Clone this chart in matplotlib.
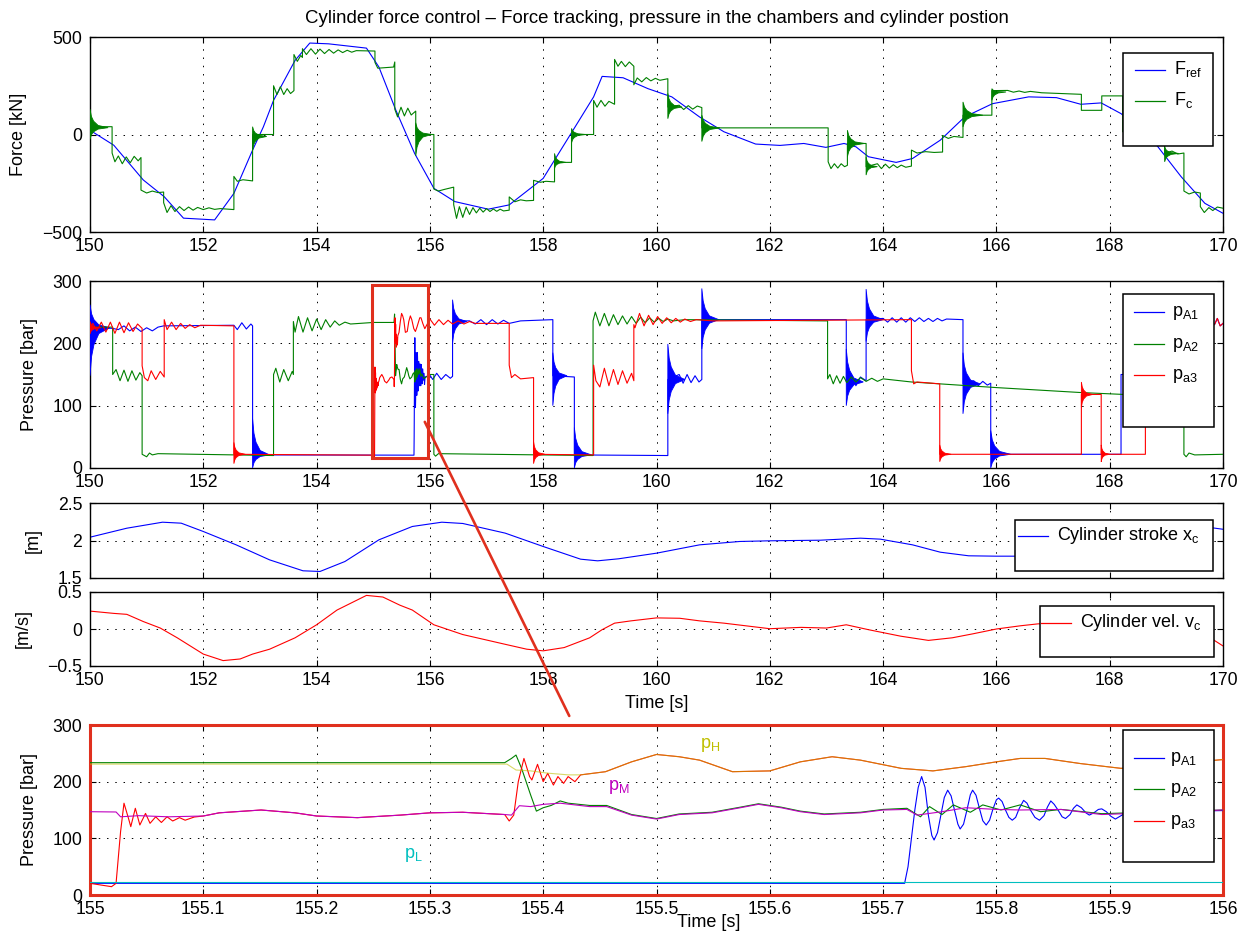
import matplotlib
matplotlib.use("Agg")
import matplotlib.pyplot as plt
from matplotlib.lines import Line2D
from matplotlib.patches import Rectangle, Polygon, ConnectionPatch
from matplotlib.ticker import FuncFormatter

plt.rcParams["font.family"] = ["Liberation Sans", "DejaVu Sans"]
plt.rcParams["mathtext.default"] = "regular"

W, H = 1249, 941
AX_LEFT, AX_RIGHT = 90, 1223

BLUE = "#0000ff"
GREEN = "#008000"
RED = "#ff0000"
CYAN = "#00bfbf"
MAGENTA = "#bf00bf"
YELLOW = "#bfbf00"
FRAME_RED = "#e0301e"

TITLE = ("Cylinder force control \u2013 Force tracking, pressure in the "
         "chambers and cylinder postion")

# ---- force [kN] ----
F_REF_T = [150.0, 150.42, 150.94, 151.31, 151.65, 152.2, 152.54, 152.87, 153.06,
           153.24, 153.62, 153.88, 154.21, 154.88, 155.1, 155.4, 155.73, 156.07,
           156.44, 157.03, 157.4, 158.0, 158.51, 158.89, 159.04, 159.41, 159.85,
           160.27, 160.76, 161.19, 161.75, 162.18, 162.6, 162.99, 163.31, 163.52,
           163.74, 164.23, 164.52, 165.01, 165.44, 165.93, 166.57, 167.06, 167.49,
           167.85, 168.2, 168.76, 169.26, 169.68, 170.0]
F_REF = [22, -55, -233, -319, -429, -438, -302, -80, 39, 175, 380, 469, 465, 443,
         346, 124, -97, -276, -344, -383, -361, -225, 14, 193, 298, 291, 235, 193,
         90, 14, -49, -56, -46, -66, -46, -63, -114, -143, -123, -29, 90, 158, 193,
         189, 155, 162, 107, -29, -216, -353, -404]

# measured force F_c, (time, value) samples
F_C = [
    (150.0, 40), (150.39, 40),
    (150.39, -95), (150.44, -140), (150.5, -110), (150.57, -150), (150.64, -115),
    (150.71, -145), (150.78, -112), (150.85, -135), (150.9, -118),
    (150.9, -285), (151.0, -300), (151.1, -290), (151.2, -298), (151.3, -295),
    (151.3, -350), (151.36, -400), (151.43, -365), (151.5, -395), (151.58, -370),
    (151.66, -390), (151.74, -372), (151.82, -388), (151.9, -374), (152.0, -385),
    (152.1, -376), (152.2, -384), (152.3, -380), (152.54, -385),
    (152.54, -215), (152.6, -240), (152.7, -232), (152.87, -238),
    (152.87, 0), (153.24, 0),
    (153.24, 250), (153.3, 205), (153.36, 245), (153.42, 205), (153.48, 235),
    (153.54, 210), (153.6, 225),
    (153.6, 410), (153.66, 375), (153.72, 405), (153.75, 395),
    (153.75, 440), (153.82, 410), (153.9, 440), (153.98, 412), (154.06, 438),
    (154.14, 415), (154.22, 436), (154.3, 417), (154.38, 434), (154.46, 420),
    (154.54, 432), (154.62, 422), (154.7, 430), (155.03, 428),
    (155.03, 370), (155.08, 340), (155.36, 346), (155.38, 372),
    (155.38, 130), (155.43, 90), (155.49, 140), (155.55, 95), (155.61, 135),
    (155.67, 100), (155.75, 120),
    (155.75, 0), (156.07, 0),
    (156.07, -280), (156.15, -290), (156.25, -282), (156.35, -275), (156.42, -270),
    (156.42, -360), (156.47, -430), (156.52, -370), (156.58, -425), (156.64, -372),
    (156.7, -410), (156.76, -375), (156.82, -402), (156.88, -378), (156.94, -398),
    (157.0, -380), (157.06, -395), (157.12, -382), (157.18, -394), (157.24, -383),
    (157.3, -392), (157.4, -388),
    (157.4, -320), (157.5, -345), (157.6, -335), (157.7, -340), (157.83, -338),
    (157.83, -235), (157.95, -245), (158.05, -240), (158.2, -243),
    (158.2, -143), (158.5, -143),
    (158.5, 0), (158.89, 0),
    (158.89, 175), (158.95, 140), (159.02, 175), (159.09, 145), (159.16, 170),
    (159.26, 155),
    (159.26, 385), (159.32, 350), (159.38, 375), (159.45, 348), (159.52, 372),
    (159.6, 350),
    (159.6, 255), (159.66, 290), (159.74, 270), (159.82, 292), (159.9, 275),
    (159.98, 288), (160.06, 278), (160.2, 286),
    (160.2, 141), (160.4, 150), (160.48, 128), (160.56, 148), (160.64, 130),
    (160.72, 146), (160.8, 138),
    (160.8, 34), (163.03, 34),
    (163.03, -140), (163.08, -175), (163.14, -150), (163.2, -172), (163.26, -150),
    (163.32, -165), (163.37, -158),
    (163.37, -46), (163.7, -46),
    (163.7, -165), (163.9, -150), (163.97, -175), (164.04, -152), (164.11, -172),
    (164.18, -155), (164.25, -170), (164.32, -157), (164.4, -168), (164.5, -162),
    (164.5, -80), (164.6, -95), (164.75, -88), (164.9, -92), (165.05, -90),
    (165.05, -5), (165.15, -20), (165.25, -10), (165.41, -15),
    (165.41, 99), (165.92, 99),
    (165.92, 225), (166.2, 226), (166.3, 217), (166.4, 223), (166.5, 216),
    (166.6, 221), (166.8, 214), (167.5, 206),
    (167.5, 124), (167.86, 124),
    (167.86, 198), (168.23, 198),
    (168.23, 14), (168.97, 14),
    (168.97, -97), (169.1, -85), (169.2, -100), (169.31, -95),
    (169.31, -290), (169.4, -305), (169.5, -295), (169.6, -300),
    (169.6, -370), (169.67, -400), (169.75, -375), (169.82, -390), (169.9, -372),
    (170.0, -378),
]
# switching transients: (start, centre, peak above, peak below, decay time)
FC_BURSTS = [(150.0, 35, 95, 60, 0.32), (152.87, -10, 50, 70, 0.25),
             (155.75, 0, 60, 110, 0.28), (158.2, -143, 46, 31, 0.2),
             (158.5, 0, 31, 43, 0.25), (160.2, 141, 70, 60, 0.25),
             (160.8, 34, 65, 70, 0.32), (163.37, -46, 68, 68, 0.3),
             (163.7, -165, 50, 43, 0.2), (165.41, 99, 68, 60, 0.35),
             (165.92, 218, 17, 43, 0.25), (168.97, -97, 34, 43, 0.25)]

# ---- detail 155-156 s [bar] ----
Z_PA1_T = [155.0, 155.719, 155.722, 155.725, 155.728, 155.731, 155.734, 155.737,
           155.74, 155.743, 155.745, 155.748, 155.751, 155.754, 155.757, 155.76,
           155.763, 155.766, 155.768, 155.771, 155.774, 155.777, 155.779, 155.782,
           155.785, 155.788, 155.791, 155.794, 155.797, 155.8, 155.802, 155.805,
           155.808, 155.811, 155.814, 155.817, 155.82, 155.824, 155.827, 155.83,
           155.834, 155.838, 155.842, 155.845, 155.848, 155.851, 155.855, 155.858,
           155.861, 155.865, 155.868, 155.871, 155.875, 155.879, 155.882, 155.886,
           155.89, 155.893, 155.897, 155.901, 155.905, 155.91, 155.915, 156.0]
Z_PA1 = [20.6, 20.6, 50, 100, 150, 190, 209, 190, 140, 105, 97, 110, 141, 172,
         185, 175, 150, 125, 116.5, 125, 150, 177, 185, 176, 153, 131, 123.5, 132,
         152, 168, 171, 165, 150, 137, 132, 137, 152, 167, 162, 150, 137, 132, 140,
         155, 166, 160, 148, 138, 135, 142, 153, 159, 154, 145, 141, 145, 151, 152,
         147, 139, 134, 140, 146, 149]

Z_PA2_T = [155.0, 155.366, 155.372, 155.376, 155.381, 155.389, 155.394, 155.4,
           155.407, 155.415, 155.422, 155.441, 155.456, 155.478, 155.5, 155.52,
           155.549, 155.574, 155.59, 155.61, 155.627, 155.648, 155.68, 155.7,
           155.721, 155.733, 155.741, 155.752, 155.762, 155.777, 155.788, 155.804,
           155.821, 155.839, 155.857, 155.893, 156.0]
Z_PA2 = [233.5, 233.5, 241, 247, 223, 176, 148, 154, 158, 166, 162, 158, 158, 142,
         135, 143, 146, 155, 161, 155, 148, 143, 146, 151, 153, 138, 156, 142, 159,
         146, 159, 150, 159, 147, 151, 143.5, 150]

Z_PA3_T = [155.0, 155.019, 155.023, 155.027, 155.03, 155.034, 155.036, 155.04,
           155.044, 155.049, 155.053, 155.058, 155.063, 155.068, 155.073, 155.079,
           155.084, 155.092, 155.1, 155.114, 155.151, 155.181, 155.2, 155.236,
           155.274, 155.3, 155.329, 155.366, 155.37, 155.374, 155.378, 155.383,
           155.388, 155.39, 155.395, 155.4, 155.404, 155.409, 155.413, 155.418,
           155.422, 155.428, 155.433, 155.455, 155.478, 155.5, 155.52, 155.538,
           155.567, 155.6, 155.627, 155.655, 155.68, 155.716, 155.744, 155.773,
           155.8, 155.821, 155.843, 155.874, 155.91, 156.0]
Z_PA3 = [20.6, 14.7, 20.6, 112, 162, 135, 120.6, 153, 123.5, 144, 126.5, 138, 128,
         138, 130.6, 136.5, 132, 137.6, 139.4, 145, 150, 145, 139.4, 136.5, 141,
         145, 146, 142, 130.6, 141, 200, 241, 209, 203, 230.6, 200, 214.7, 194,
         209, 197, 209, 200, 212, 217.6, 235, 248, 244, 238, 217.6, 219, 235, 244,
         238, 223.5, 219, 226.5, 235, 241, 241, 232, 223.5, 239]

Z_PH_T = [155.0, 155.368, 155.376, 155.389, 155.404, 155.422, 155.433, 155.455,
          155.478, 155.5, 155.52, 155.538, 155.567, 155.6, 155.627, 155.655,
          155.68, 155.716, 155.744, 155.773, 155.8, 155.821, 155.843, 155.874,
          155.91, 156.0]
Z_PH = [231, 231, 220.6, 219, 215, 212, 212, 217.6, 235, 248, 244, 238, 217.6,
        219, 235, 244, 238, 223.5, 219, 226.5, 235, 241, 241, 232, 223.5, 239]

Z_PM_T = [155.0, 155.023, 155.027, 155.043, 155.069, 155.1, 155.114, 155.151,
          155.181, 155.2, 155.236, 155.274, 155.3, 155.329, 155.366, 155.372,
          155.379, 155.389, 155.4, 155.415, 155.441, 155.456, 155.478, 155.5,
          155.52, 155.549, 155.574, 155.59, 155.61, 155.627, 155.648, 155.68,
          155.7, 155.721, 155.73, 155.752, 155.773, 155.8, 155.821, 155.857,
          155.893, 156.0]
Z_PM = [147, 146.5, 138, 140, 138, 139.4, 145, 150, 145, 139.4, 136.5, 141, 145,
        146, 142, 141, 157.6, 156, 160, 162, 156, 156, 141, 134, 142, 145, 154, 160,
        154, 147, 142, 145, 150, 151, 141, 147, 154, 151, 150, 151, 142, 150]

Z_PL_T = [155.0, 156.0]
Z_PL = [22.5, 22.5]

# ---- chamber pressures 150-170 s [bar]; 155-156 s comes from the detail above ----
PA1_BEFORE = [
    (150.0, 226), (150.4, 224), (150.5, 222), (150.6, 228), (150.7, 220),
    (150.8, 226), (150.9, 219), (151.0, 225), (151.1, 220), (151.2, 226),
    (151.3, 228), (152.54, 229), (152.6, 222), (152.68, 233), (152.76, 223),
    (152.84, 231), (152.87, 228),
    (152.87, 21), (155.0, 20.6),
]
PA1_AFTER = [
    (156.05, 142), (156.12, 152), (156.2, 142), (156.28, 150), (156.36, 144),
    (156.4, 147),
    (156.4, 236), (156.7, 236), (156.8, 231), (156.9, 238), (157.0, 230),
    (157.1, 238), (157.2, 231), (157.3, 237), (157.4, 232), (157.6, 236),
    (158.17, 238),
    (158.17, 148), (158.55, 146),
    (158.55, 21), (160.2, 20),
    (160.2, 142), (160.4, 150), (160.47, 136), (160.54, 150), (160.61, 137),
    (160.68, 148), (160.75, 138), (160.8, 142),
    (160.8, 238), (163.35, 238),
    (163.35, 138), (163.45, 148), (163.52, 132), (163.6, 146), (163.7, 140),
    (163.7, 238), (164.0, 240), (164.08, 234), (164.16, 241), (164.24, 234),
    (164.32, 241), (164.4, 234), (164.48, 241), (164.56, 235), (164.64, 241),
    (164.72, 235), (164.8, 240), (164.88, 235), (164.96, 240), (165.04, 236),
    (165.12, 239), (165.41, 238),
    (165.41, 135), (165.6, 140), (165.68, 132), (165.76, 139), (165.84, 133),
    (165.9, 136),
    (165.9, 22), (168.2, 22),
    (168.2, 150), (169.3, 150),
    (169.3, 230), (169.85, 230), (169.9, 240), (169.95, 228), (170.0, 232),
]
PA1_BURSTS = [(150.0, 225, 37, 77, 0.35), (152.87, 21, 58, 21, 0.3),
              (156.4, 235, 35, 34, 0.25), (158.17, 148, 37, 48, 0.25),
              (158.55, 21, 44, 21, 0.3), (160.2, 142, 57, 55, 0.3),
              (160.8, 238, 50, 47, 0.3), (163.35, 138, 53, 38, 0.3),
              (163.7, 238, 49, 35, 0.3), (165.41, 135, 50, 48, 0.3),
              (165.9, 22, 38, 22, 0.35)]

PA2_BEFORE = [
    (150.0, 226), (150.4, 226),
    (150.4, 150), (150.46, 158), (150.53, 140), (150.6, 157), (150.67, 139),
    (150.74, 156), (150.81, 141), (150.88, 153), (150.92, 148),
    (150.92, 22), (151.0, 18), (151.05, 24), (151.1, 21), (151.2, 23),
    (153.24, 20),
    (153.24, 150), (153.28, 160), (153.35, 138), (153.42, 158), (153.5, 140),
    (153.57, 155), (153.59, 150),
    (153.59, 235), (153.62, 218), (153.68, 243), (153.76, 218), (153.84, 241),
    (153.92, 220), (154.0, 239), (154.08, 222), (154.16, 238), (154.24, 226),
    (154.32, 236), (154.4, 229), (154.5, 234), (154.6, 231), (155.0, 233.5),
]
PA2_AFTER = [
    (156.07, 150),
    (156.07, 22), (156.1, 19), (156.15, 23), (158.88, 20),
    (158.88, 236), (158.92, 250), (159.0, 228), (159.08, 248), (159.16, 228),
    (159.24, 246), (159.32, 230), (159.4, 244), (159.48, 231), (159.56, 243),
    (159.64, 232), (159.72, 242), (159.8, 233), (159.88, 241), (159.96, 234),
    (160.04, 240), (160.12, 235), (160.2, 239), (160.3, 236), (160.5, 238),
    (163.02, 236),
    (163.02, 143), (163.06, 150), (163.12, 135), (163.18, 148), (163.24, 136),
    (163.3, 147), (163.36, 137), (163.44, 146), (163.52, 138), (163.6, 145),
    (163.7, 139), (163.8, 144), (163.9, 139), (164.0, 143), (164.5, 138),
    (166.0, 129), (167.5, 121), (168.5, 117), (169.31, 116),
    (169.31, 22), (169.35, 18), (169.4, 24), (169.5, 21), (170.0, 22),
]

PA3_BEFORE = [
    (150.0, 226), (150.05, 232), (150.12, 220), (150.2, 234), (150.28, 218),
    (150.36, 234), (150.44, 216), (150.52, 234), (150.6, 217), (150.68, 233),
    (150.76, 219), (150.84, 231), (150.92, 224),
    (150.92, 164), (150.96, 145), (151.02, 140), (151.08, 156), (151.16, 142),
    (151.24, 155), (151.31, 146),
    (151.31, 238), (151.36, 222), (151.44, 234), (151.52, 222), (151.6, 232),
    (151.68, 224), (151.76, 230), (151.85, 225), (151.95, 229), (152.54, 228),
    (152.54, 22), (155.0, 20.6),
]
PA3_AFTER = [
    (156.08, 229), (156.16, 238), (156.24, 230), (156.32, 237), (156.4, 231),
    (156.5, 236), (156.6, 231), (156.7, 235), (156.8, 232), (157.4, 232),
    (157.4, 165), (157.44, 145), (157.5, 150), (157.6, 143), (157.83, 145),
    (157.83, 22), (158.89, 21),
    (158.89, 165), (158.93, 140), (159.0, 130), (159.08, 160), (159.16, 132),
    (159.24, 158), (159.32, 134), (159.4, 156), (159.48, 136), (159.56, 152),
    (159.6, 140),
    (159.6, 230), (159.62, 225), (159.7, 248), (159.78, 228), (159.86, 245),
    (159.94, 230), (160.02, 243), (160.1, 232), (160.18, 241), (160.26, 233),
    (160.34, 240), (160.42, 234), (160.5, 239), (160.6, 235), (160.7, 238),
    (161.0, 236), (164.5, 238),
    (164.5, 156), (164.54, 135), (164.6, 138), (165.0, 135),
    (165.0, 22), (167.5, 22),
    (167.5, 118), (167.85, 118),
    (167.85, 22), (168.63, 22),
    (168.63, 230), (169.85, 230), (169.9, 240), (169.95, 228), (170.0, 232),
]
PA3_BURSTS = [(150.0, 225, 10, 10, 0.2), (152.54, 22, 19, 15, 0.2),
              (157.83, 22, 20, 15, 0.2), (165.0, 22, 15, 12, 0.2),
              (167.5, 118, 20, 21, 0.2), (167.85, 22, 15, 12, 0.15)]

# ---- cylinder stroke [m] and velocity [m/s] ----
XC_T = [150.0, 150.65, 151.28, 151.61, 152.0, 152.58, 153.17, 153.76, 154.06,
        154.5, 155.1, 155.69, 156.21, 156.58, 157.33, 158.0, 158.66, 158.96,
        159.33, 160.0, 160.76, 161.47, 162.0, 162.89, 163.6, 163.95, 164.52,
        165.01, 165.51, 166.0, 166.33, 167.0, 168.0, 169.0, 169.7, 170.0]
XC = [2.044, 2.164, 2.244, 2.231, 2.12, 1.942, 1.742, 1.596, 1.587, 1.72, 2.009,
      2.187, 2.244, 2.227, 2.098, 1.92, 1.751, 1.729, 1.756, 1.831, 1.942, 1.987,
      1.996, 2.004, 2.031, 2.018, 1.942, 1.844, 1.796, 1.791, 1.791, 1.80, 1.93,
      2.12, 2.18, 2.15]

VC_T = [150.0, 150.42, 150.65, 150.94, 151.24, 151.54, 152.0, 152.35, 152.65,
        152.87, 153.17, 153.62, 154.0, 154.36, 154.88, 155.17, 155.47, 155.69,
        156.07, 156.58, 157.33, 157.71, 158.0, 158.37, 158.82, 159.04, 159.26,
        159.55, 160.0, 160.41, 160.76, 161.19, 162.0, 162.55, 163.0, 163.35,
        163.74, 164.31, 164.8, 165.22, 165.58, 166.0, 166.43, 166.74, 168.0,
        169.0, 169.5, 169.82, 170.0]
VC = [0.242, 0.211, 0.198, 0.101, 0.013, -0.119, -0.339, -0.427, -0.405, -0.339,
      -0.273, -0.119, 0.057, 0.256, 0.454, 0.432, 0.322, 0.256, 0.057, -0.075,
      -0.207, -0.273, -0.295, -0.251, -0.119, -0.009, 0.079, 0.110, 0.150, 0.145,
      0.110, 0.079, 0.004, 0.022, 0.013, 0.057, -0.009, -0.097, -0.154, -0.119,
      -0.066, 0.0, 0.044, 0.07, 0.07, 0.0, -0.08, -0.141, -0.229]


def unzip(points):
    return [p[0] for p in points], [p[1] for p in points]


def joined(before, zt, zv, after):
    bt, bv = unzip(before)
    at, av = unzip(after)
    return bt + zt + at, bv + zv + av


def draw_bursts(ax, bursts, color, z):
    # dense decaying oscillation right after a valve switch, drawn as its envelope
    frac = [0.0, 0.08, 0.2, 0.45, 1.0]
    env = [1.0, 0.6, 0.35, 0.12, 0.0]
    for t0, mid, up, down, dur in bursts:
        top = [(t0 + f * dur, mid + e * up) for f, e in zip(frac, env)]
        bot = [(t0 + f * dur, mid - e * down) for f, e in zip(frac, env)]
        ax.add_patch(Polygon(top + bot[::-1], closed=True, facecolor=color,
                             edgecolor=color, linewidth=0.6, zorder=z))


def add_axes_px(fig, top, bottom):
    return fig.add_axes([AX_LEFT / W, 1 - bottom / H,
                         (AX_RIGHT - AX_LEFT) / W, (bottom - top) / H])


def fmt_num(v, _pos=None):
    return f"{v:g}".replace("-", "\u2212")


def style(ax, xlim, ylim, xticks, yticks):
    ax.set_xlim(xlim)
    ax.set_ylim(ylim)
    ax.set_xticks(xticks)
    ax.set_yticks(yticks)
    ax.xaxis.set_major_formatter(FuncFormatter(fmt_num))
    ax.yaxis.set_major_formatter(FuncFormatter(fmt_num))
    ax.tick_params(direction="in", top=True, right=True, length=4, width=0.8,
                   labelsize=12.7)
    ax.tick_params(axis="x", pad=4)
    ax.tick_params(axis="y", pad=5.5)
    ax.grid(True, color="black", linestyle=(0, (1.5, 7)), linewidth=0.7)
    for sp in ax.spines.values():
        sp.set_linewidth(1.0)


def px(x, y):
    return x / W, 1 - y / H


def draw_legend(fig, box, line_x, text_x, entries):
    x0, y0, x1, y1 = box
    fig.add_artist(Rectangle(px(x0, y1), (x1 - x0) / W, (y1 - y0) / H,
                             transform=fig.transFigure, facecolor="white",
                             edgecolor="black", linewidth=1.1, zorder=5))
    for color, label, ly in entries:
        (ax0, ay), (ax1, _) = px(line_x[0], ly), px(line_x[1], ly)
        fig.add_artist(Line2D([ax0, ax1], [ay, ay], transform=fig.transFigure,
                              color=color, linewidth=0.9, zorder=6))
        tx, ty = px(text_x, ly + 4)
        fig.text(tx, ty, label, fontsize=13, ha="left", va="baseline", zorder=7)


def main():
    fig = plt.figure(figsize=(W / 100, H / 100), dpi=100, facecolor="white")
    ticks_long = list(range(150, 171, 2))
    lw = 0.8

    # force tracking
    ax1 = add_axes_px(fig, 37, 232)
    ax1.plot(F_REF_T, F_REF, color=BLUE, lw=lw, zorder=3)
    fx, fy = unzip(F_C)
    ax1.plot(fx, fy, color=GREEN, lw=lw, zorder=4)
    draw_bursts(ax1, FC_BURSTS, GREEN, 4)
    style(ax1, (150, 170), (-500, 500), ticks_long, [-500, 0, 500])
    ax1.set_ylabel("Force [kN]", fontsize=13)
    ax1.yaxis.set_label_coords(-0.0552, 0.5)

    # chamber pressures
    ax2 = add_axes_px(fig, 281, 468)
    t, v = joined(PA1_BEFORE, Z_PA1_T, Z_PA1, PA1_AFTER)
    ax2.plot(t, v, color=BLUE, lw=lw, zorder=3)
    draw_bursts(ax2, PA1_BURSTS, BLUE, 3)
    t, v = joined(PA2_BEFORE, Z_PA2_T, Z_PA2, PA2_AFTER)
    ax2.plot(t, v, color=GREEN, lw=lw, zorder=4)
    t, v = joined(PA3_BEFORE, Z_PA3_T, Z_PA3, PA3_AFTER)
    ax2.plot(t, v, color=RED, lw=lw, zorder=5)
    draw_bursts(ax2, PA3_BURSTS, RED, 5)
    style(ax2, (150, 170), (0, 300), ticks_long, [0, 100, 200, 300])
    ax2.set_ylabel("Pressure [bar]", fontsize=13)
    ax2.yaxis.set_label_coords(-0.0459, 0.5)
    ax2.add_patch(Rectangle((154.97, 16), 1.0, 278, fill=False,
                            edgecolor=FRAME_RED, linewidth=2.2, zorder=8,
                            clip_on=False))

    # stroke
    ax3 = add_axes_px(fig, 503, 578)
    ax3.plot(XC_T, XC, color=BLUE, lw=lw)
    style(ax3, (150, 170), (1.5, 2.5), ticks_long, [1.5, 2, 2.5])
    ax3.tick_params(labelbottom=False)
    ax3.set_ylabel("[m]", fontsize=13)
    ax3.yaxis.set_label_coords(-0.0424, 0.5)

    # velocity
    ax4 = add_axes_px(fig, 592, 666)
    ax4.plot(VC_T, VC, color=RED, lw=lw)
    style(ax4, (150, 170), (-0.5, 0.5), ticks_long, [-0.5, 0, 0.5])
    ax4.set_ylabel("[m/s]", fontsize=13)
    ax4.yaxis.set_label_coords(-0.0515, 0.5)
    ax4.set_xlabel("Time [s]", fontsize=13)
    ax4.xaxis.set_label_coords(0.5, -0.39)

    # detail of the marked interval
    ax5 = add_axes_px(fig, 725, 895)
    ax5.plot(Z_PA1_T, Z_PA1, color=BLUE, lw=lw, zorder=3)
    ax5.plot(Z_PA2_T, Z_PA2, color=GREEN, lw=lw, zorder=3)
    ax5.plot(Z_PA3_T, Z_PA3, color=RED, lw=lw, zorder=3)
    ax5.plot(Z_PH_T, Z_PH, color=YELLOW, lw=lw, alpha=0.6, zorder=4)
    ax5.plot(Z_PM_T, Z_PM, color=MAGENTA, lw=lw, zorder=4)
    ax5.plot(Z_PL_T, Z_PL, color=CYAN, lw=lw, zorder=4)
    style(ax5, (155, 156), (0, 300), [155 + i / 10 for i in range(11)],
          [0, 100, 200, 300])
    for sp in ax5.spines.values():
        sp.set_color(FRAME_RED)
        sp.set_linewidth(2.2)
    ax5.set_ylabel("Pressure [bar]", fontsize=13)
    ax5.yaxis.set_label_coords(-0.0459, 0.5)
    ax5.set_xlabel("Time [s]", fontsize=13)
    ax5.xaxis.set_label_coords(0.546, -0.112)
    ax5.text(155.538, 259, "p$_{H}$", color=YELLOW, fontsize=13, va="baseline")
    ax5.text(155.457, 185, "p$_{M}$", color=MAGENTA, fontsize=13, va="baseline")
    ax5.text(155.277, 65, "p$_{L}$", color=CYAN, fontsize=13, va="baseline")

    link = ConnectionPatch(xyA=(155.91, 74), coordsA=ax2.transData,
                           xyB=(155.423, 316), coordsB=ax5.transData,
                           color=FRAME_RED, linewidth=1.9, zorder=9)
    fig.add_artist(link)

    fig.text(656.5 / W, 1 - 23.3 / H, TITLE, fontsize=13.4, ha="center",
             va="baseline")

    draw_legend(fig, (1123, 53, 1213, 146), (1135, 1165), 1174,
                [(BLUE, "F$_{ref}$", 70), (GREEN, "F$_{c}$", 101)])
    draw_legend(fig, (1123, 294, 1214, 427), (1134, 1164), 1172,
                [(BLUE, "p$_{A1}$", 312), (GREEN, "p$_{A2}$", 344),
                 (RED, "p$_{a3}$", 375)])
    draw_legend(fig, (1015, 520, 1213, 571), (1018, 1048), 1057,
                [(BLUE, "Cylinder stroke x$_{c}$", 536)])
    draw_legend(fig, (1040, 606, 1214, 657), (1041, 1071), 1080,
                [(RED, "Cylinder vel. v$_{c}$", 623)])
    draw_legend(fig, (1123, 730, 1214, 862), (1134, 1164), 1170,
                [(BLUE, "p$_{A1}$", 758), (GREEN, "p$_{A2}$", 789),
                 (RED, "p$_{a3}$", 821)])

    fig.savefig("out.png", dpi=100, facecolor="white")


if __name__ == "__main__":
    main()
